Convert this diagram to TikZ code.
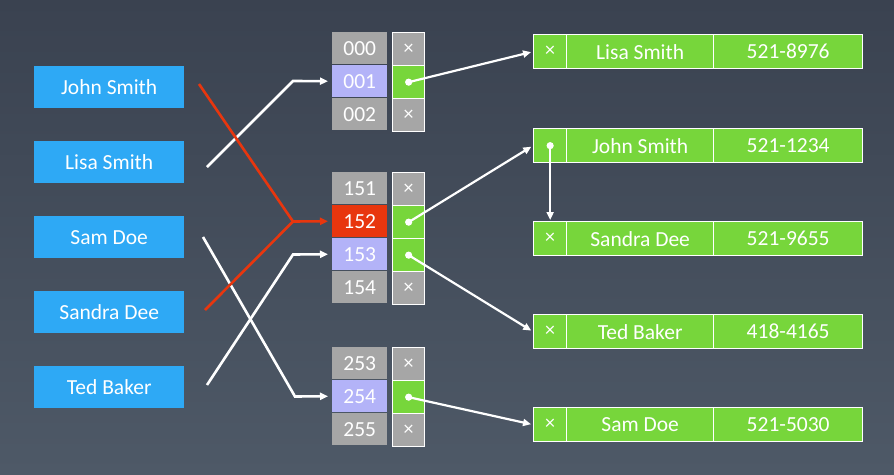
\documentclass[tikz,border=0pt]{standalone}
\usepackage{fontspec}
\setmainfont{Carlito}
\usetikzlibrary{arrows.meta,calc}
\definecolor{bgtop}{HTML}{3A4250}
\definecolor{bgbot}{HTML}{4E5967}
\definecolor{keyblue}{HTML}{2EA9F5}
\definecolor{cellgray}{HTML}{A6A6A6}
\definecolor{lav}{HTML}{B3B3F8}
\definecolor{hred}{HTML}{E8360E}
\definecolor{lgreen}{HTML}{77D63B}
\begin{document}
\begin{tikzpicture}[x=1pt,y=-1pt,
  txt/.style={font=\fontsize{21.5}{23}\selectfont, text=white},
  keybox/.style={txt, fill=keyblue, minimum width=150pt, minimum height=42pt, anchor=north west, inner sep=0pt},
  idx/.style={txt, fill=cellgray, minimum width=55pt, minimum height=32pt, anchor=north west, inner sep=0pt},
  ptr/.style={font=\fontsize{20}{22}\selectfont, text=white, draw=white, line width=1.3pt, minimum width=32pt, minimum height=33pt, anchor=north west, inner sep=0pt},
  ptrx/.style={ptr, fill=cellgray},
  ptrg/.style={ptr, fill=lgreen},
  rec/.style={txt, fill=lgreen, draw=white, line width=1.3pt, minimum height=34pt, anchor=north west, inner sep=0pt},
  reca/.style={rec, minimum width=33pt, font=\fontsize{20}{22}\selectfont},
  recn/.style={rec, minimum width=147pt},
  recp/.style={rec, minimum width=149pt},
  tip/.style={-{Triangle[length=8pt,width=7pt]}},
  wline/.style={draw=white, line width=2.6pt, line join=miter},
  rline/.style={draw=hred, line width=2.6pt, line join=miter},
  pline/.style={draw=white, line width=2.2pt, tip, shorten >=2pt},
  dot/.style={fill=white}
]
\useasboundingbox (0,0) rectangle (894,474);
\fill[top color=bgtop, bottom color=bgbot] (0,0) rectangle (894,474);

% keys
\node[keybox] (k1) at (34,66) {John Smith};
\node[keybox] (k2) at (34,141) {Lisa Smith};
\node[keybox] (k3) at (34,216) {Sam Doe};
\node[keybox] (k4) at (34,291) {Sandra Dee};
\node[keybox] (k5) at (34,366) {Ted Baker};

% bucket group 1
\node[idx] (i000) at (332,32) {000};
\node[idx, fill=lav] (i001) at (332,65) {001};
\node[idx] (i002) at (332,98) {002};
\node[ptrx] (p000) at (392,32) {×};
\node[ptrg] (p001) at (392,65) {};
\node[ptrx] (p002) at (392,98) {×};

% bucket group 2
\node[idx] (i151) at (332,172) {151};
\node[idx, fill=hred] (i152) at (332,205) {152};
\node[idx, fill=lav] (i153) at (332,238) {153};
\node[idx] (i154) at (332,271) {154};
\node[ptrx] (p151) at (392,172) {×};
\node[ptrg] (p152) at (392,205) {};
\node[ptrg] (p153) at (392,238) {};
\node[ptrx] (p154) at (392,271) {×};

% bucket group 3
\node[idx] (i253) at (332,347) {253};
\node[idx, fill=lav] (i254) at (332,380) {254};
\node[idx] (i255) at (332,413) {255};
\node[ptrx] (p253) at (392,347) {×};
\node[ptrg] (p254) at (392,380) {};
\node[ptrx] (p255) at (392,413) {×};

% records
\node[reca] (r1a) at (533,34) {×};
\node[recn] (r1n) at (566,34) {Lisa Smith};
\node[recp] (r1p) at (713,34) {521-8976};
\node[reca] (r2a) at (533,128) {};
\node[recn] (r2n) at (566,128) {John Smith};
\node[recp] (r2p) at (713,128) {521-1234};
\node[reca] (r3a) at (533,221) {×};
\node[recn] (r3n) at (566,221) {Sandra Dee};
\node[recp] (r3p) at (713,221) {521-9655};
\node[reca] (r4a) at (533,314) {×};
\node[recn] (r4n) at (566,314) {Ted Baker};
\node[recp] (r4p) at (713,314) {418-4165};
\node[reca] (r5a) at (533,407) {×};
\node[recn] (r5n) at (566,407) {Sam Doe};
\node[recp] (r5p) at (713,407) {521-5030};

% hash connectors
\coordinate (s1) at (199,84);
\coordinate (s2) at (207,167);
\coordinate (s3) at (203,237);
\coordinate (s4) at (205,310);
\coordinate (s5) at (207,385);
\coordinate (j1) at (293,81);
\coordinate (j2) at (293,221.5);
\coordinate (j3) at (293,254.5);
\coordinate (j4) at (295,396.5);

\draw[wline, tip, shorten >=4pt] (s2) -- (j1) -- (i001.west);
\draw[wline, tip, shorten >=4pt] (s5) -- (j3) -- (i153.west);
\draw[wline, tip, shorten >=4pt] (s3) -- (j4) -- (i254.west);
\draw[rline] (s4) -- (j2);
\draw[rline, tip, shorten >=4pt] (s1) -- (j2) -- (i152.west);

% pointer connectors
\draw[pline] (p001.center) -- (r1a.west);
\draw[pline] (p152.center) -- (r2a.west);
\draw[pline] (p153.center) -- (r4a.west);
\draw[pline] (p254.center) -- (r5a.west);
\draw[pline, shorten >=1pt] (r2a.center) -- (r3a.north);

% dots
\fill[dot] (p001.center) circle (3.6pt);
\fill[dot] (p152.center) circle (3.6pt);
\fill[dot] (p153.center) circle (3.6pt);
\fill[dot] (p254.center) circle (3.6pt);
\fill[dot] (r2a.center) circle (3.6pt);
\end{tikzpicture}
\end{document}
